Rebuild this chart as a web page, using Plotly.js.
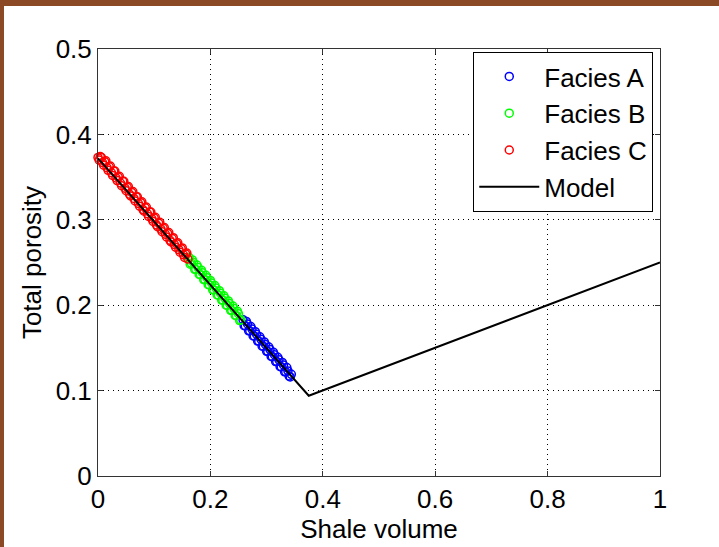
<!DOCTYPE html>
<html>
<head>
<meta charset="utf-8">
<script src="https://cdn.plot.ly/plotly-3.0.1.min.js"></script>
<style>
  html, body { margin: 0; padding: 0; width: 719px; height: 547px; overflow: hidden; background: #8b4a25; }
  #bg { position: absolute; left: 4px; top: 6px; width: 715px; height: 541px; background: #ffffff; }
  #chart { position: absolute; left: 0; top: 0; width: 719px; height: 547px; }
</style>
</head>
<body>
<div id="bg"></div>
<div id="chart"></div>
<script>
// Facies A (blue)
const faciesA_x = [0.258,0.262,0.266,0.270,0.274,0.278,0.282,0.286,0.290,0.294,0.298,0.302,0.306,0.310,0.314,0.318,0.322,0.326,0.330,0.334,0.338,0.342,
                   0.260,0.264,0.268,0.272,0.276,0.280,0.284,0.288,0.292,0.296,0.300,0.304,0.308,0.312,0.316,0.320,0.324,0.328,0.332,0.336,0.340,0.344];
const faciesA_y = [0.183,0.176,0.178,0.170,0.172,0.164,0.166,0.158,0.160,0.152,0.154,0.146,0.148,0.140,0.142,0.134,0.136,0.128,0.130,0.122,0.123,0.116,
                   0.176,0.181,0.170,0.175,0.164,0.169,0.158,0.163,0.152,0.157,0.146,0.151,0.140,0.145,0.134,0.139,0.128,0.133,0.122,0.127,0.117,0.119];
// Facies B (green)
const faciesB_x = [0.162,0.166,0.170,0.174,0.178,0.182,0.186,0.190,0.194,0.198,0.202,0.206,0.210,0.214,0.218,0.222,0.226,0.230,0.234,0.238,0.242,0.246,0.250,0.254,
                   0.164,0.168,0.172,0.176,0.180,0.184,0.188,0.192,0.196,0.200,0.204,0.208,0.212,0.216,0.220,0.224,0.228,0.232,0.236,0.240,0.244,0.248,0.252];
const faciesB_y = [0.256,0.249,0.250,0.242,0.244,0.236,0.238,0.230,0.232,0.224,0.226,0.218,0.220,0.212,0.214,0.206,0.208,0.200,0.202,0.194,0.196,0.188,0.190,0.183,
                   0.248,0.253,0.242,0.247,0.236,0.241,0.230,0.235,0.224,0.229,0.218,0.223,0.212,0.217,0.206,0.211,0.200,0.205,0.194,0.199,0.188,0.193,0.182];
// Facies C (red)
const faciesC_x = [0.000,0.004,0.008,0.012,0.016,0.020,0.024,0.028,0.032,0.036,0.040,0.044,0.048,0.052,0.056,0.060,0.064,0.068,0.072,0.076,0.080,0.084,0.088,0.092,0.096,0.100,0.104,0.108,0.112,0.116,0.120,0.124,0.128,0.132,0.136,0.140,0.144,0.148,0.152,0.156,0.160,
                   0.002,0.006,0.010,0.014,0.018,0.022,0.026,0.030,0.034,0.038,0.042,0.046,0.050,0.054,0.058,0.062,0.066,0.070,0.074,0.078,0.082,0.086,0.090,0.094,0.098,0.102,0.106,0.110,0.114,0.118,0.122,0.126,0.130,0.134,0.138,0.142,0.146,0.150,0.154,0.158];
const faciesC_y = [0.373,0.374,0.367,0.368,0.361,0.362,0.355,0.357,0.349,0.350,0.343,0.345,0.337,0.338,0.330,0.332,0.325,0.327,0.319,0.320,0.312,0.314,0.307,0.309,0.301,0.302,0.294,0.296,0.289,0.290,0.283,0.284,0.276,0.278,0.271,0.272,0.265,0.266,0.259,0.260,0.254,
                   0.370,0.373,0.364,0.369,0.358,0.363,0.352,0.357,0.346,0.351,0.340,0.345,0.334,0.339,0.328,0.333,0.322,0.327,0.316,0.321,0.310,0.315,0.304,0.309,0.298,0.303,0.292,0.297,0.286,0.291,0.280,0.285,0.274,0.279,0.268,0.273,0.262,0.267,0.256,0.261];
// Model
const model_x = [0, 0.375, 1];
const model_y = [0.372, 0.094, 0.25];
// Axis ticks
const xTicks = [0, 0.2, 0.4, 0.6, 0.8, 1];
const xTickText = ["0", "0.2", "0.4", "0.6", "0.8", "1"];
const yTicks = [0, 0.1, 0.2, 0.3, 0.4, 0.5];
const yTickText = ["0", "0.1", "0.2", "0.3", "0.4", "0.5"];

const FONT = "Liberation Sans, Arial, sans-serif";

function scatter(name, x, y, color) {
  return {
    type: "scatter", mode: "markers", name: name, x: x, y: y,
    marker: { symbol: "circle-open", size: 8, color: color, line: { width: 1.5, color: color } },
    cliponaxis: false
  };
}

const traces = [
  scatter("Facies A", faciesA_x, faciesA_y, "#0000ff"),
  scatter("Facies B", faciesB_x, faciesB_y, "#00ff00"),
  scatter("Facies C", faciesC_x, faciesC_y, "#ff0000"),
  { type: "scatter", mode: "lines", name: "Model", x: model_x, y: model_y,
    line: { color: "#000000", width: 2 } }
];

const axisCommon = {
  showline: true, linecolor: "#333333", linewidth: 1, mirror: "ticks",
  ticks: "inside", ticklen: 5, tickcolor: "#333333",
  showgrid: true, gridcolor: "#000000", gridwidth: 1, griddash: "1px,4px",
  zeroline: false, tickfont: { family: FONT, size: 26, color: "#000000" },
  automargin: false, tickmode: "array"
};

const layout = {
  width: 719, height: 547,
  paper_bgcolor: "rgba(0,0,0,0)", plot_bgcolor: "#ffffff",
  margin: { l: 98, r: 59, t: 49, b: 71 },
  showlegend: true,
  xaxis: Object.assign({}, axisCommon, {
    range: [0, 1], tickvals: xTicks, ticktext: xTickText,
    title: { text: "Shale volume", font: { family: FONT, size: 26, color: "#000000" }, standoff: 2 }
  }),
  yaxis: Object.assign({}, axisCommon, {
    range: [0, 0.5], tickvals: yTicks, ticktext: yTickText,
    title: { text: "Total porosity", font: { family: FONT, size: 26, color: "#000000" }, standoff: 6 }
  }),
  legend: {
    x: 0.988, y: 0.993, xanchor: "right", yanchor: "top",
    bgcolor: "#ffffff", bordercolor: "#000000", borderwidth: 1,
    font: { family: FONT, size: 26, color: "#000000" },
    itemwidth: 60, tracegroupgap: 0
  }
};

Plotly.newPlot("chart", traces, layout, { displayModeBar: false, staticPlot: true });
</script>
</body>
</html>
